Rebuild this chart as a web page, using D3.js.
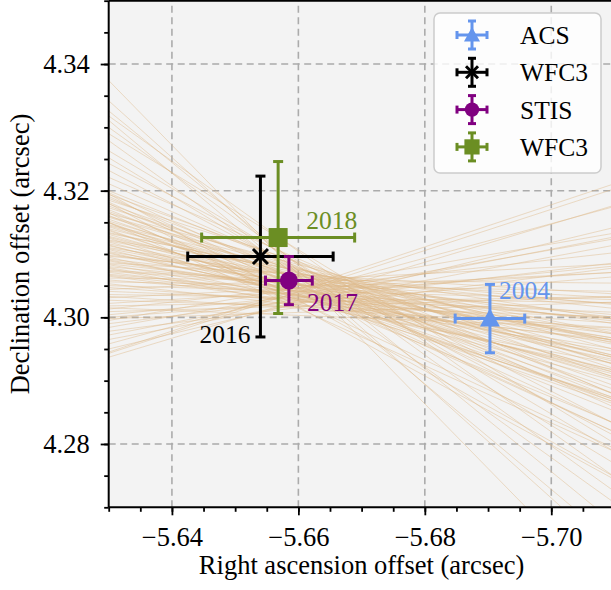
<!DOCTYPE html>
<html>
<head>
<meta charset="utf-8">
<script src="https://cdn.jsdelivr.net/npm/d3@7"></script>
<style>
  body { margin: 0; background: #ffffff; }
  svg { display: block; }
  text { font-family: "Liberation Serif", "Times New Roman", serif; }
</style>
</head>
<body>
<svg id="chart" width="611" height="590"></svg>
<script>
// ---- data -------------------------------------------------------------
const xTicks = [-5.64, -5.66, -5.68, -5.70];
const yTicks = [4.28, 4.30, 4.32, 4.34];

// astrometric epochs (RA / Dec offsets in arcsec with 1-sigma errors)
const epochs      = ["2004", "2016", "2017", "2018"];
const instruments = ["ACS", "WFC3", "STIS", "WFC3"];
const raValues    = [-5.6903, -5.6540, -5.6585, -5.6568];
const raErrors    = [0.0055, 0.0115, 0.0037, 0.0121];
const decValues   = [4.2998, 4.3096, 4.3058, 4.3126];
const decErrors   = [0.0054, 0.0127, 0.0038, 0.0120];

// posterior orbit draws: Dec offset where each track crosses RA = -5.63 and RA = -5.71
const orbitRaStart = -5.63;
const orbitRaEnd   = -5.71;
const orbitDecStart = [
  4.3374, 4.3342, 4.3326, 4.3311, 4.3300, 4.3279, 4.3263, 4.3252, 4.3243, 4.3232,
  4.3221, 4.3211, 4.3290, 4.3318, 4.3195, 4.3180, 4.3165, 4.3150,
  4.3200, 4.3197, 4.3194, 4.3191, 4.3188, 4.3185, 4.3182, 4.3179, 4.3176, 4.3173,
  4.3170, 4.3167, 4.3164, 4.3161, 4.3158, 4.3155, 4.3152, 4.3149, 4.3146, 4.3143,
  4.3140, 4.3137, 4.3134, 4.3131, 4.3128, 4.3125, 4.3122, 4.3119, 4.3116, 4.3113,
  4.3110, 4.3107, 4.3104, 4.3101, 4.3098, 4.3095, 4.3092, 4.3089, 4.3086, 4.3083,
  4.3080, 4.3077, 4.3074, 4.3071, 4.3068, 4.3065, 4.3062, 4.3059, 4.3056, 4.3053,
  4.3050, 4.3047, 4.3044, 4.3041,
  4.31595, 4.3150, 4.31445, 4.31385, 4.31325, 4.31265, 4.31205, 4.31145, 4.31085, 4.31025,
  4.30965, 4.30905, 4.30845, 4.30785, 4.30725, 4.30665,
  4.3036, 4.3031, 4.3027, 4.3022, 4.3018, 4.3013, 4.3009, 4.3004, 4.3000, 4.2995,
  4.2990, 4.2984, 4.2978, 4.2972, 4.2965, 4.2958, 4.2950, 4.2943, 4.2937, 4.3033,
  4.3015, 4.2998, 4.2945
];
const orbitDecEnd = [
  4.2557, 4.2625, 4.2675, 4.2645, 4.2725, 4.2707, 4.2788, 4.2769, 4.2832, 4.2813,
  4.2878, 4.2858, 4.2801, 4.2748, 4.2748, 4.2744, 4.2793, 4.2788,
  4.2879, 4.2832, 4.2905, 4.2819, 4.2872, 4.2925, 4.2819, 4.2892, 4.2866, 4.2919,
  4.2852, 4.2886, 4.2949, 4.2833, 4.2926, 4.2879, 4.2913, 4.2866, 4.2959, 4.2903,
  4.2936, 4.2870, 4.2963, 4.2906, 4.2930, 4.2873, 4.2997, 4.2910, 4.2963, 4.2937,
  4.2990, 4.2913, 4.2967, 4.2940, 4.3014, 4.2917, 4.3000, 4.2964, 4.3037, 4.2950,
  4.3004, 4.2927, 4.3031, 4.2974, 4.2997, 4.2961, 4.3054, 4.2998, 4.3041, 4.2964,
  4.3028, 4.2991, 4.3084, 4.3008,
  4.2939, 4.2870, 4.2936, 4.2863, 4.2975, 4.2916, 4.2973, 4.2900, 4.2957, 4.2933,
  4.3020, 4.2967, 4.2994, 4.2946, 4.3022, 4.2979,
  4.3023, 4.3071, 4.3001, 4.3071, 4.3033, 4.3102, 4.3032, 4.3081, 4.3064, 4.3133,
  4.3086, 4.3124, 4.3078, 4.3127, 4.3114, 4.3175, 4.3142, 4.3203, 4.3177, 4.2984,
  4.2983, 4.3024, 4.3211
];

// ---- styling -----------------------------------------------------------
const colors  = ["#6495ED", "#000000", "#800080", "#6B8E23"];
const markers = ["triangle", "x", "circle", "square"];
const drawOrder = [1, 3, 2, 0];
// label anchor offsets from each point (px) and text anchor
const labelLayout = [
  { dx: 9,   dy: -20, anchor: "start" },
  { dx: -10, dy: 86,  anchor: "end" },
  { dx: 18,  dy: 30,  anchor: "start" },
  { dx: 28,  dy: -9,  anchor: "start" }
];

const svg = d3.select("#chart");
const x = d3.scaleLinear().domain([orbitRaStart, orbitRaEnd]).range([108.7, 614.5]);
const y = d3.scaleLinear().domain([4.27, 4.35]).range([507.3, 0.7]);
const [x0, x1] = x.range();
const [y0, y1] = y.range();

// plot background
svg.append("rect")
  .attr("x", x0).attr("y", y1).attr("width", x1 - x0).attr("height", y0 - y1)
  .attr("fill", "#f3f3f3");

svg.append("clipPath").attr("id", "plotClip")
  .append("rect").attr("x", x0).attr("y", y1).attr("width", x1 - x0).attr("height", y0 - y1);

// dashed grid
const grid = svg.append("g").attr("stroke", "#ababab").attr("stroke-width", 1.6)
  .attr("stroke-dasharray", "7,4.5");
grid.selectAll(".gx").data(xTicks).join("line")
  .attr("x1", d => x(d)).attr("x2", d => x(d)).attr("y1", y0).attr("y2", y1);
grid.selectAll(".gy").data(yTicks).join("line")
  .attr("y1", d => y(d)).attr("y2", d => y(d)).attr("x1", x0).attr("x2", x1);

// orbit tracks
svg.append("g").attr("clip-path", "url(#plotClip)")
  .selectAll("line").data(d3.range(orbitDecStart.length)).join("line")
  .attr("x1", x(orbitRaStart)).attr("x2", x(orbitRaEnd))
  .attr("y1", i => y(orbitDecStart[i])).attr("y2", i => y(orbitDecEnd[i]))
  .attr("stroke", "#deb887").attr("stroke-opacity", 0.48).attr("stroke-width", 0.95);

// marker shapes
function markerPath(kind, s) {
  const h = s / 2;
  if (kind === "triangle") return `M0,${-h}L${h},${h * 0.8}L${-h},${h * 0.8}Z`;
  if (kind === "square") return `M${-h},${-h}H${h}V${h}H${-h}Z`;
  if (kind === "circle") return d3.arc()({ innerRadius: 0, outerRadius: h, startAngle: 0, endAngle: 2 * Math.PI });
  return `M${-h},${-h}L${h},${h}M${-h},${h}L${h},${-h}`;
}

function drawErrorbar(g, cx, cy, xl, xr, yt, yb, color, cap, kind, size) {
  const eb = g.append("g").attr("stroke", color).attr("stroke-width", 3).attr("fill", "none");
  eb.append("line").attr("x1", xl).attr("x2", xr).attr("y1", cy).attr("y2", cy);
  eb.append("line").attr("x1", cx).attr("x2", cx).attr("y1", yt).attr("y2", yb);
  [xl, xr].forEach(v => eb.append("line").attr("x1", v).attr("x2", v).attr("y1", cy - cap).attr("y2", cy + cap));
  [yt, yb].forEach(v => eb.append("line").attr("y1", v).attr("y2", v).attr("x1", cx - cap).attr("x2", cx + cap));
  const m = g.append("path").attr("d", markerPath(kind, size))
    .attr("transform", `translate(${cx},${cy})`);
  if (kind === "x") m.attr("stroke", color).attr("stroke-width", 3).attr("fill", "none");
  else m.attr("fill", color);
}

const markerSizes = { triangle: 20, x: 15, circle: 18, square: 19 };

const pts = svg.append("g");
drawOrder.forEach(i => {
  const cx = x(raValues[i]), cy = y(decValues[i]);
  drawErrorbar(pts, cx, cy,
    x(raValues[i] + raErrors[i]), x(raValues[i] - raErrors[i]),
    y(decValues[i] + decErrors[i]), y(decValues[i] - decErrors[i]),
    colors[i], 5, markers[i], markerSizes[markers[i]]);
});

// epoch labels
svg.append("g").selectAll("text").data(d3.range(epochs.length)).join("text")
  .attr("x", i => x(raValues[i]) + labelLayout[i].dx)
  .attr("y", i => y(decValues[i]) + labelLayout[i].dy)
  .attr("text-anchor", i => labelLayout[i].anchor)
  .attr("fill", i => colors[i])
  .attr("font-size", 25.5)
  .text(i => epochs[i]);

// axes
const fmt = d3.format(".2f");
const xMinor = d3.range(0, 17).map(k => +(orbitRaStart - k * 0.005).toFixed(3));
const yMinor = d3.range(0, 17).map(k => +(4.27 + k * 0.005).toFixed(3));

const gx = svg.append("g").attr("transform", `translate(0,${y0})`)
  .call(d3.axisBottom(x).tickValues(xTicks).tickSize(8).tickPadding(10).tickFormat(fmt));
const gxm = svg.append("g").attr("transform", `translate(0,${y0})`)
  .call(d3.axisBottom(x).tickValues(xMinor).tickSize(4.5).tickFormat(""));
const gy = svg.append("g").attr("transform", `translate(${x0},0)`)
  .call(d3.axisLeft(y).tickValues(yTicks).tickSize(8).tickPadding(11).tickFormat(fmt));
const gym = svg.append("g").attr("transform", `translate(${x0},0)`)
  .call(d3.axisLeft(y).tickValues(yMinor).tickSize(4.5).tickFormat(""));

[gx, gxm, gy, gym].forEach(g => {
  g.select(".domain").remove();
  g.selectAll("line").attr("stroke", "#000").attr("stroke-width", 1.8);
  g.selectAll("text").attr("font-family", "Liberation Serif, serif").attr("font-size", 26.5).attr("fill", "#000");
});
gx.selectAll("text").attr("y", 38.3).attr("dy", null);

// spines
const sp = svg.append("g").attr("stroke", "#000").attr("stroke-width", 2).attr("fill", "none");
sp.append("line").attr("x1", x0).attr("x2", x0).attr("y1", y1).attr("y2", y0);
sp.append("line").attr("x1", x0).attr("x2", x1).attr("y1", y0).attr("y2", y0);
sp.append("line").attr("x1", x0).attr("x2", x1).attr("y1", y1).attr("y2", y1);
sp.append("line").attr("x1", x1).attr("x2", x1).attr("y1", y1).attr("y2", y0);

// axis titles
svg.append("text").attr("x", (x0 + x1) / 2).attr("y", 574).attr("text-anchor", "middle")
  .attr("font-size", 26.5).text("Right ascension offset (arcsec)");
svg.append("text").attr("transform", `translate(29,${(y0 + y1) / 2}) rotate(-90)`)
  .attr("text-anchor", "middle").attr("font-size", 26.5).text("Declination offset (arcsec)");

// legend
const lg = svg.append("g");
lg.append("rect").attr("x", 434).attr("y", 13).attr("width", 167).attr("height", 160).attr("rx", 6)
  .attr("fill", "#ffffff").attr("fill-opacity", 0.8).attr("stroke", "#cccccc").attr("stroke-width", 1.5);
instruments.forEach((name, i) => {
  const ly = 35 + i * 37.3;
  const g = lg.append("g");
  drawErrorbar(g, 472, ly, 457, 487, ly - 14, ly + 14, colors[i], 4, markers[i], markerSizes[markers[i]] * 0.8);
  lg.append("text").attr("x", 520).attr("y", ly).attr("dy", "0.35em")
    .attr("font-size", 25.5).text(name);
});
</script>
</body>
</html>
